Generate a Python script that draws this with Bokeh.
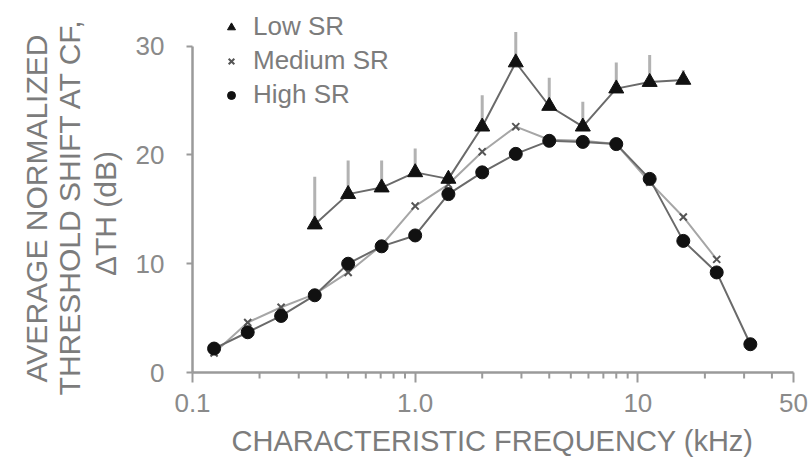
import math
from bokeh.plotting import figure
from bokeh.models import FixedTicker, Legend, LegendItem, Range1d, Label
from bokeh.embed import file_html
from bokeh.resources import INLINE

# ---- data ----
freq = [0.125, 0.177, 0.25, 0.354, 0.5, 0.707, 1.0, 1.41, 2.0, 2.83, 4.0, 5.66, 8.0, 11.3, 16.0, 22.6, 32.0]
high_sr = [2.2, 3.7, 5.2, 7.1, 10.0, 11.6, 12.6, 16.4, 18.4, 20.1, 21.3, 21.2, 21.0, 17.8, 12.1, 9.2, 2.6]

freq_med = [0.125, 0.177, 0.25, 0.354, 0.5, 0.707, 1.0, 1.41, 2.0, 2.83, 4.0, 5.66, 8.0, 11.3, 16.0, 22.6]
medium_sr = [1.8, 4.6, 6.0, 7.2, 9.2, 11.7, 15.3, 17.3, 20.3, 22.6, 21.4, 21.3, 21.0, 17.5, 14.3, 10.4]

freq_low = [0.354, 0.5, 0.707, 1.0, 1.41, 2.0, 2.83, 4.0, 5.66, 8.0, 11.3, 16.0]
low_sr = [13.6, 16.4, 17.0, 18.4, 17.8, 22.6, 28.5, 24.5, 22.6, 26.1, 26.7, 26.9]
low_sr_err = [4.4, 3.1, 2.5, 2.2, 0.5, 2.9, 2.8, 2.6, 2.3, 2.4, 2.5, 0.9]

x_ticks = [0.1, 1, 10, 50]
x_tick_labels = ["0.1", "1.0", "10", "50"]
x_minor = [0.2, 0.3, 0.4, 0.5, 0.6, 0.7, 0.8, 0.9, 2, 3, 4, 5, 6, 7, 8, 9, 20, 30, 40]
y_ticks = [0, 10, 20, 30]

x_title = "CHARACTERISTIC FREQUENCY (kHz)"
y_title_lines = ["AVERAGE NORMALIZED", "THRESHOLD SHIFT AT CF,", "\u0394TH (dB)"]

FONT = "Liberation Sans"
TXT = "#7c7c7c"

# ---- layout geometry: the frame covers the whole canvas; axes sit at fixed spots ----
W, H = 810, 457
AX_LEFT_PX, AX_RIGHT_PX = 192, 793      # x = 0.1 and x = 50
ZERO_PX, PX_PER_UNIT = 372, 10.877      # y = 0 and scale
PX_PER_DECADE = (AX_RIGHT_PX - AX_LEFT_PX) / math.log10(50 / 0.1)


def px_to_x(px):
    return 0.1 * 10 ** ((px - AX_LEFT_PX) / PX_PER_DECADE)


def px_to_y(py):
    return (ZERO_PX - py) / PX_PER_UNIT


p = figure(width=W, height=H, x_axis_type="log",
           x_range=Range1d(px_to_x(0), px_to_x(W)),
           y_range=Range1d(px_to_y(H), px_to_y(0)),
           output_backend="svg", toolbar_location=None,
           min_border_left=0, min_border_right=0,
           min_border_top=0, min_border_bottom=0)
p.outline_line_color = None
p.grid.visible = False
p.background_fill_color = "white"

# axes
for ax in (p.xaxis[0], p.yaxis[0]):
    ax.axis_line_color = "#9a9a9a"
    ax.axis_line_width = 2.5
    ax.major_tick_line_color = "#9a9a9a"
    ax.major_tick_line_width = 2
    ax.minor_tick_line_color = None
    ax.major_label_text_font = FONT
    ax.major_label_text_font_size = "26px"
    ax.major_label_text_color = "#8a8a8a"

xa = p.xaxis[0]
xa.fixed_location = 0
xa.bounds = (0.1, 50)
xa.ticker = FixedTicker(ticks=x_ticks, minor_ticks=[])
xa.major_label_overrides = {t: s for t, s in zip(x_ticks, x_tick_labels)}
xa.major_tick_in = 0
xa.major_tick_out = 10
xa.major_label_standoff = 11

ya = p.yaxis[0]
ya.fixed_location = 0.1
ya.bounds = (0, 30)
ya.ticker = FixedTicker(ticks=y_ticks, minor_ticks=[])
ya.major_tick_in = 0
ya.major_tick_out = 6
ya.major_label_standoff = 22

# axis titles as text annotations
p.add_layout(Label(x=px_to_x(492), y=px_to_y(440), text=x_title,
                   text_font=FONT, text_font_size="29px", text_color=TXT,
                   text_align="center", text_baseline="middle"))
for txt, cx, cy in zip(y_title_lines, [36, 69, 105], [208, 206, 213]):
    p.add_layout(Label(x=px_to_x(cx), y=px_to_y(cy), text=txt,
                       angle=90, angle_units="deg",
                       text_font=FONT, text_font_size="30px", text_color=TXT,
                       text_align="center", text_baseline="middle"))

# minor x ticks (short, pointing down from the axis)
p.segment(x0=x_minor, y0=[0] * len(x_minor), x1=x_minor,
          y1=[-6 / PX_PER_UNIT] * len(x_minor), line_color="#9a9a9a", line_width=2)

# lines
p.line(freq_med, medium_sr, line_color="#a6a6a6", line_width=2)
p.line(freq, high_sr, line_color="#6a6a6a", line_width=2)
p.line(freq_low, low_sr, line_color="#6a6a6a", line_width=2)

# error bars (upward only)
low_top = [v + e for v, e in zip(low_sr, low_sr_err)]
p.segment(x0=freq_low, y0=low_sr, x1=freq_low, y1=low_top, line_color="#b2b2b2", line_width=3)

# markers
r_med = p.scatter(freq_med, medium_sr, marker="x", size=10, line_color="#555555", line_width=2)
r_high = p.scatter(freq, high_sr, marker="circle", size=13, fill_color="#111111", line_color="#111111")
r_low = p.scatter(freq_low, low_sr, marker="triangle", size=15, fill_color="#111111", line_color="#111111")

legend = Legend(items=[LegendItem(label="Low SR", renderers=[r_low]),
                       LegendItem(label="Medium SR", renderers=[r_med]),
                       LegendItem(label="High SR", renderers=[r_high])],
                location=(221, 347), orientation="vertical",
                label_text_font=FONT, label_text_font_size="26px", label_text_color=TXT,
                glyph_width=20, glyph_height=30, label_height=30, spacing=3,
                padding=0, margin=0, label_standoff=12,
                background_fill_alpha=0, border_line_alpha=0)
p.add_layout(legend)

open("out.html", "w").write(file_html(p, INLINE))
